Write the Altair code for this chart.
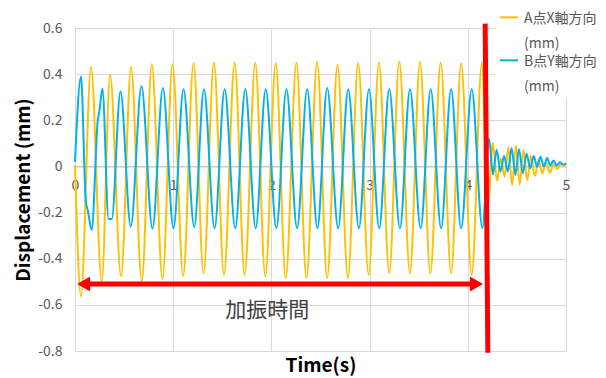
import altair as alt
import pandas as pd

FONT = "Noto Sans CJK JP"

# Series names (legend labels, wrapped at the space)
name_a = "A点X軸方向 (mm)"
name_b = "B点Y軸方向 (mm)"

# A点X軸方向 (yellow): peaks / troughs (time s, displacement mm)
a_t = [0.000, 0.061, 0.163, 0.272, 0.357, 0.469, 0.571, 0.680, 0.782, 0.891,
       0.993, 1.102, 1.207, 1.309, 1.415, 1.517, 1.626, 1.727, 1.836, 1.938,
       2.044, 2.146, 2.255, 2.357, 2.466, 2.568, 2.673, 2.779, 2.884, 2.990,
       3.095, 3.200, 3.302, 3.411, 3.513, 3.619, 3.724, 3.830, 3.932, 4.040,
       4.143,
       4.205, 4.255, 4.297, 4.337, 4.375, 4.413, 4.452, 4.490, 4.528, 4.567,
       4.605, 4.643, 4.682, 4.720, 4.758, 4.797, 4.835, 4.873, 4.912, 4.950,
       4.985, 5.000]
a_v = [0.007, -0.564, 0.431, -0.499, 0.398, -0.477, 0.431, -0.499, 0.443, -0.489,
       0.443, -0.474, 0.448, -0.463, 0.451, -0.470, 0.451, -0.470, 0.448, -0.477,
       0.448, -0.484, 0.451, -0.484, 0.455, -0.484, 0.441, -0.484, 0.448, -0.470,
       0.451, -0.463, 0.455, -0.463, 0.455, -0.463, 0.451, -0.463, 0.448, -0.470,
       0.448,
       -0.165, 0.100, -0.062, 0.035, -0.045, 0.082, -0.080, 0.090, -0.078, 0.070,
       -0.060, 0.045, -0.042, 0.028, -0.030, 0.018, -0.028, 0.010, -0.012, 0.012,
       0.004, 0.010]

# B点Y軸方向 (blue)
b_t = [0.000, 0.061, 0.110, 0.130, 0.170, 0.232, 0.250, 0.279, 0.342, 0.374,
       0.463, 0.568, 0.677, 0.789, 0.895, 1.003, 1.105, 1.214, 1.313, 1.421,
       1.524, 1.632, 1.734, 1.840, 1.942, 2.051, 2.153, 2.262, 2.364, 2.469,
       2.568, 2.680, 2.782, 2.891, 2.993, 3.098, 3.200, 3.309, 3.411, 3.520,
       3.622, 3.728, 3.830, 3.932, 4.040, 4.149,
       4.217, 4.256, 4.294, 4.332, 4.370, 4.408, 4.446, 4.484, 4.522, 4.560,
       4.598, 4.636, 4.672, 4.706, 4.740, 4.774, 4.808, 4.840, 4.872, 4.905,
       4.940, 4.970, 5.000]
b_v = [0.020, 0.390, -0.150, -0.190, -0.275, 0.200, 0.245, 0.337, -0.228, -0.228,
       0.325, -0.260, 0.347, -0.270, 0.340, -0.268, 0.335, -0.262, 0.335, -0.268,
       0.335, -0.268, 0.335, -0.268, 0.335, -0.268, 0.335, -0.268, 0.335, -0.268,
       0.340, -0.268, 0.335, -0.268, 0.335, -0.268, 0.335, -0.268, 0.335, -0.268,
       0.335, -0.268, 0.335, -0.268, 0.335, -0.268,
       0.120, -0.035, 0.072, -0.022, 0.045, -0.022, 0.080, -0.036, 0.075, -0.030,
       0.055, -0.008, 0.045, -0.002, 0.042, 0.000, 0.036, 0.004, 0.026, 0.004,
       0.018, 0.008, 0.014]

# Annotations: end of excitation (red line), arrow span, label
vline_t = [4.177, 4.204]
vline_v = [0.619, -0.808]
arrow_t = [0.0, 4.177]
arrow_v = -0.510
label_text = "加振時間"
label_t = 1.957
label_v = -0.625

x_ticks = [0, 1, 2, 3, 4, 5]
y_ticks = [-0.8, -0.6, -0.4, -0.2, 0.0, 0.2, 0.4, 0.6]

df = pd.concat([
    pd.DataFrame({"t": a_t, "v": a_v, "s": name_a}),
    pd.DataFrame({"t": b_t, "v": b_v, "s": name_b}),
], ignore_index=True)

W, H = 491, 323
zero_offset = -H * (0.8 / 1.4)

x_scale = alt.Scale(domain=[0, 5], nice=False)
y_scale = alt.Scale(domain=[-0.8, 0.6], nice=False)

x_axis = alt.Axis(values=x_ticks, format="d", grid=True, gridColor="#d9d9d9", domain=True,
                  domainColor="#bfbfbf", ticks=False, labelPadding=12, labelFlush=False,
                  labelFont=FONT, labelFontSize=14, labelColor="#595959", labelAngle=0,
                  offset=zero_offset, title="Time(s)", titleFont=FONT, titleFontSize=19,
                  titleFontWeight="bold", titleColor="#000000", titleY=199,
                  titleBaseline="middle")
y_axis = alt.Axis(values=y_ticks, grid=True, gridColor="#d9d9d9", domain=True,
                  domainColor="#d9d9d9", ticks=False, labelPadding=13,
                  labelExpr="datum.value == 0 ? '0' : (datum.value < 0 ? '-' : '') + format(abs(datum.value), '.1f')",
                  labelFont=FONT, labelFontSize=14, labelColor="#595959",
                  title="Displacement (mm)", titleFont=FONT, titleFontSize=19,
                  titleFontWeight="bold", titleColor="#000000", titleX=-52, titleY=H / 2,
                  titleAngle=270, titleAlign="center", titleBaseline="middle")

legend = alt.Legend(orient="none", legendX=420, legendY=-19, title=None,
                    symbolType="M-1,-0.63L1,-0.63", symbolSize=324, symbolStrokeWidth=2,
                    labelFont=FONT, labelFontSize=14, labelColor="#595959",
                    labelExpr="split(datum.label, ' ')", labelBaseline="alphabetic",
                    labelOffset=5, fillColor="white", padding=4, rowPadding=4)

lines = alt.Chart(df).mark_line(interpolate="monotone", strokeWidth=2).encode(
    x=alt.X("t:Q", scale=x_scale, axis=x_axis),
    y=alt.Y("v:Q", scale=y_scale, axis=y_axis),
    color=alt.Color("s:N", scale=alt.Scale(domain=[name_a, name_b], range=["#FFC000", "#00B0F0"]),
                    legend=legend),
)

vline = alt.Chart(pd.DataFrame({"t": vline_t, "v": vline_v})).mark_line(
    color="#FF0000", strokeWidth=5, strokeCap="butt").encode(x="t:Q", y="v:Q")

arrow_df = pd.DataFrame({"t": [arrow_t[0]], "t2": [arrow_t[1]], "v": [arrow_v]})
arrow = alt.Chart(arrow_df).mark_rule(color="#FF0000", strokeWidth=5, xOffset=8, x2Offset=-8).encode(
    x="t:Q", x2="t2:Q", y="v:Q")
head_l = alt.Chart(pd.DataFrame({"t": [arrow_t[0]], "v": [arrow_v]})).mark_point(
    shape="triangle-left", filled=True, size=225, color="#FF0000", opacity=1, xOffset=8.66
).encode(x="t:Q", y="v:Q")
head_r = alt.Chart(pd.DataFrame({"t": [arrow_t[1]], "v": [arrow_v]})).mark_point(
    shape="triangle-right", filled=True, size=225, color="#FF0000", opacity=1, xOffset=-8.66
).encode(x="t:Q", y="v:Q")

label = alt.Chart(pd.DataFrame({"t": [label_t], "v": [label_v], "txt": [label_text]})).mark_text(
    font=FONT, fontSize=21, color="#404040", align="center", baseline="middle"
).encode(x="t:Q", y="v:Q", text="txt:N")

chart = alt.layer(lines, vline, arrow, head_l, head_r, label).properties(
    width=W, height=H, autosize="none",
    padding={"left": 67, "top": 20, "right": 32, "bottom": 27},
).configure(
    font=FONT, style={"guide-label": {"lineHeight": 25}}
).configure_view(stroke=None)

chart.save("out.html", embed_options={"renderer": "svg", "actions": False})
